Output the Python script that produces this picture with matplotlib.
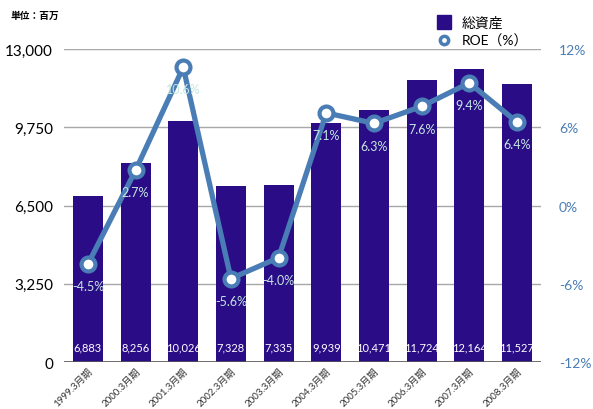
import matplotlib.pyplot as plt
from matplotlib.lines import Line2D
import numpy as np

plt.rcParams['font.family'] = ['Lato', 'Noto Sans CJK JP', 'DejaVu Sans']

# ===== Data =====
periods = ['1999.3月期', '2000.3月期', '2001.3月期', '2002.3月期', '2003.3月期',
           '2004.3月期', '2005.3月期', '2006.3月期', '2007.3月期', '2008.3月期']
total_assets = [6883, 8256, 10026, 7328, 7335, 9939, 10471, 11724, 12164, 11527]
roe = [-4.5, 2.7, 10.6, -5.6, -4.0, 7.1, 6.3, 7.6, 9.4, 6.4]

asset_ticks = [0, 3250, 6500, 9750, 13000]
roe_ticks = [-12, -6, 0, 6, 12]

bar_color = '#2b0c87'
line_color = '#4a7db5'
label_color = '#c4e6e0'

# ===== Figure =====
fig = plt.figure(figsize=(5.93, 4.10), dpi=100)
ax = fig.add_axes([0.108, 0.1146, 0.804, 0.7634])
x = np.arange(len(periods))

for y in asset_ticks[1:]:
    ax.axhline(y, color='#a8a8a8', lw=1.0, zorder=0)
ax.axhline(0, color='#555555', lw=1.2, zorder=3)

ax.bar(x, total_assets, width=0.63, color=bar_color, zorder=2)
for xi, v in zip(x, total_assets):
    ax.text(xi, 620, f'{v:,}', ha='center', va='center', color='white',
            fontsize=8, zorder=4)

ax.set_xlim(-0.5, len(periods) - 0.5)
ax.set_ylim(0, 13000)
ax.set_yticks(asset_ticks)
ax.set_yticklabels([f'{t:,}' for t in asset_ticks], fontsize=11)
ax.set_xticks(x)
ax.set_xticklabels(periods, rotation=45, ha='right', rotation_mode='anchor',
                   fontsize=7, color='#333333')
ax.tick_params(axis='y', length=0, pad=8)
ax.tick_params(axis='x', length=0, pad=3)
for s in ax.spines.values():
    s.set_visible(False)

# ===== ROE line on secondary axis =====
ax2 = ax.twinx()
ax2.plot(x, roe, color=line_color, lw=3.8, marker='o', markersize=10,
         markerfacecolor='white', markeredgecolor=line_color,
         markeredgewidth=3, zorder=5)
for xi, v in zip(x, roe):
    ax2.text(xi, v - 1.7, f'{v:.1f}%', ha='center', va='center',
             color=label_color, fontsize=9, zorder=6)
ax2.set_ylim(-12, 12)
ax2.set_yticks(roe_ticks)
ax2.set_yticklabels([f'{t}%' for t in roe_ticks], fontsize=10, color=line_color)
ax2.tick_params(axis='y', length=0, pad=13)
for s in ax2.spines.values():
    s.set_visible(False)

fig.text(0.017, 0.962, '単位：百万', fontsize=7, fontweight='bold',
         family=['Noto Sans CJK JP'], va='center')

handles = [
    Line2D([], [], marker='s', ls='none', markersize=10, color=bar_color),
    Line2D([], [], marker='o', ls='none', markersize=6, markerfacecolor='white',
           markeredgecolor=line_color, markeredgewidth=2.5),
]
ax2.legend(handles, ['総資産', 'ROE（%）'], loc='lower right',
           bbox_to_anchor=(0.985, 0.99), frameon=False, fontsize=10,
           handlelength=1.0, handletextpad=0.8, borderaxespad=0,
           labelspacing=0.35)

fig.savefig('out.png', dpi=100)
